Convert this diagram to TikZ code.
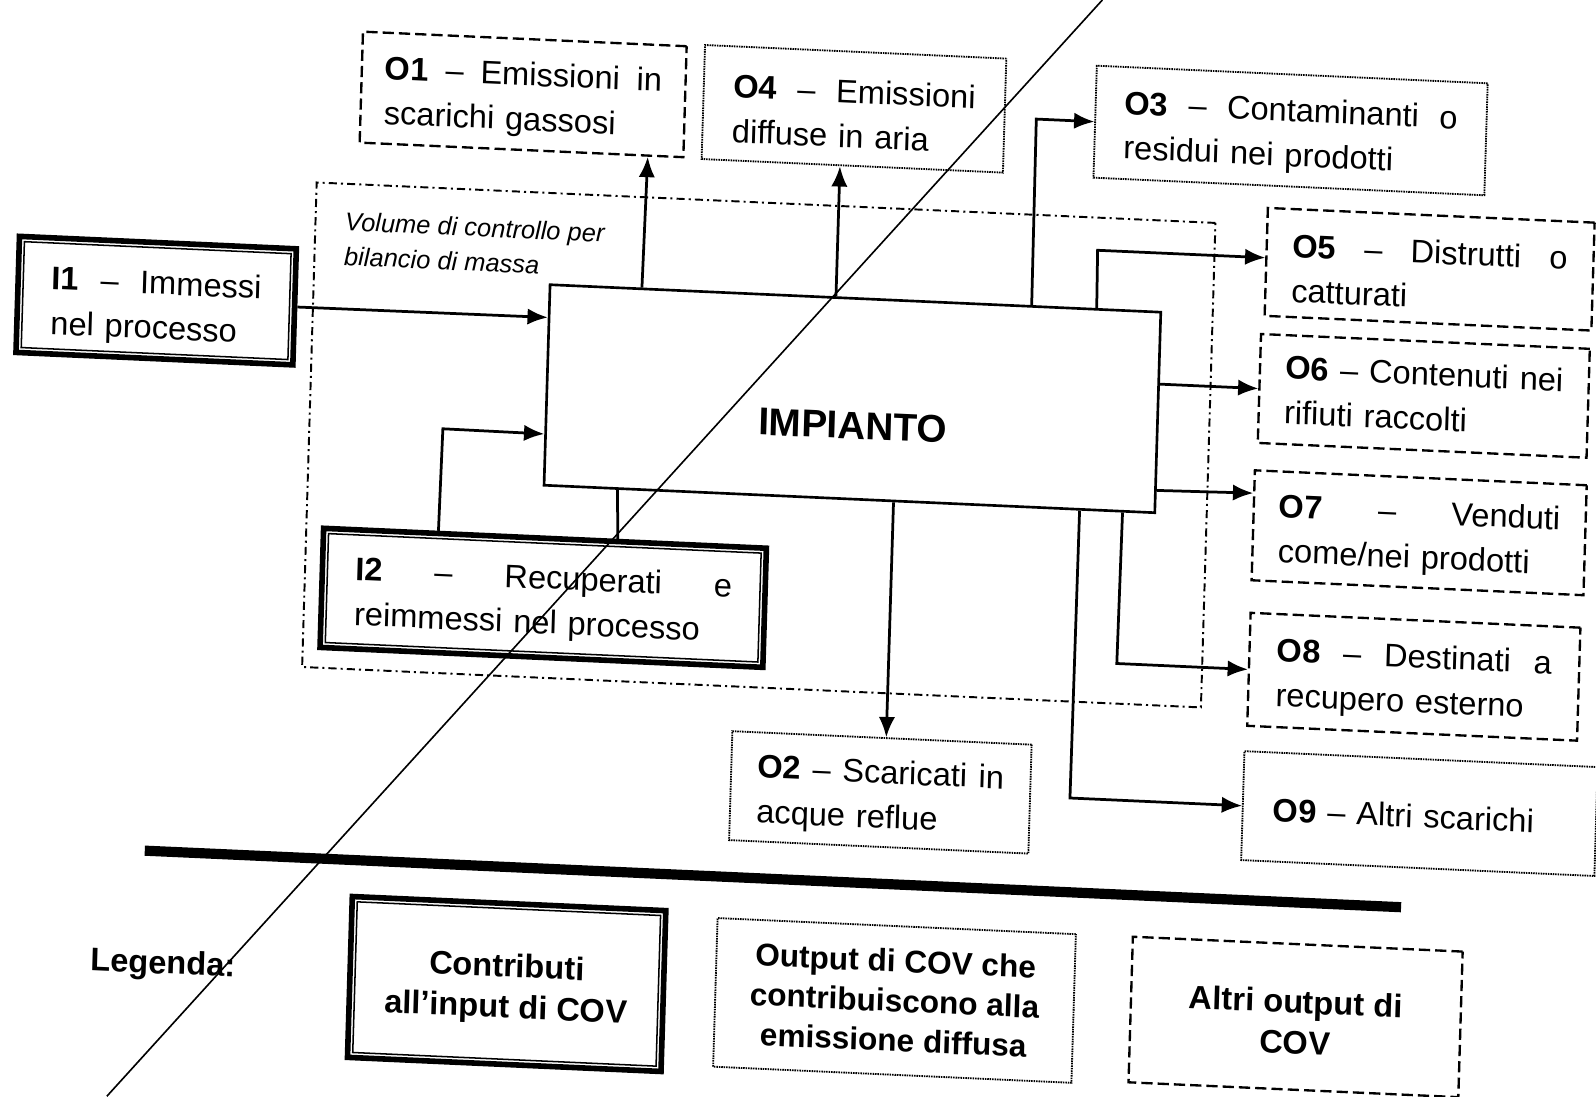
\documentclass[tikz,border=0pt]{standalone}
\usepackage{fontspec}
\setmainfont{Liberation Sans}
\usetikzlibrary{arrows.meta,calc}
\newcommand{\tstrut}{\rule{0pt}{33pt}}
\begin{document}
\begin{tikzpicture}[x=1pt,y=-1pt,
  txt/.style={font=\fontsize{32}{44}\selectfont, align=left, inner sep=0pt, transform shape},
  ltxt/.style={font=\bfseries\fontsize{32}{40}\selectfont, align=center, inner sep=0pt, transform shape},
  dashbox/.style={draw, line width=2.3pt, dash pattern=on 11pt off 5pt, inner sep=0pt, transform shape},
  dotbox/.style={draw, line width=1.8pt, dash pattern=on 1.5pt off 0.9pt, inner sep=0pt, transform shape},
  dblout/.style={draw, line width=5.5pt, inner sep=0pt, transform shape},
  dblin/.style={draw, line width=1.5pt, inner sep=0pt, transform shape},
  cvbox/.style={draw, line width=1.9pt, dash pattern=on 8pt off 4pt on 2pt off 4pt, inner sep=0pt, transform shape},
  mainbox/.style={draw, line width=2.6pt, inner sep=0pt, transform shape},
  arr/.style={line width=2.7pt, -{Latex[length=20pt,width=16pt]}},
  conn/.style={line width=2.7pt},
  sepline/.style={line width=10pt}
]
\useasboundingbox (0,0) rectangle (1568,1077);
\fill[white] (0,0) rectangle (1568,1077);

\begin{scope}[shift={(784,538)}]
\begin{scope}[cm={1,-0.045,0.03,1,(0,0)}]
\begin{scope}[shift={(-784,-538)}]

% control volume
\node[cvbox, minimum width=883, minimum height=476] (CV) at (742.5,439) {};
\node[font=\itshape\fontsize{25}{34}\selectfont, align=left, anchor=west, inner sep=0pt, transform shape] (CVlbl) at (330,255) {Volume di controllo per\\bilancio di massa};

% main plant
\node[mainbox, minimum width=600, minimum height=197] (IMP) at (833,389.5) {};
\node[font=\bfseries\fontsize{38}{44}\selectfont, inner sep=0pt, transform shape] (IMPlbl) at (834,416) {IMPIANTO};

% inputs
\node[dblout, minimum width=272, minimum height=114] (I1) at (147,324) {};
\node[dblin, txt, minimum width=262, minimum height=104, text width=206] (I1t) at (147,324) {\rule{0pt}{38pt}\textbf{I1}\hfill–\hfill Immessi\\nel processo};
\node[dblout, minimum width=435, minimum height=117] (I2) at (535.5,598.5) {};
\node[dblin, txt, minimum width=425, minimum height=107, text width=370] (I2t) at (535.5,598.5) {\tstrut\textbf{I2}\hfill–\hfill Recuperati\hfill e\\reimmessi nel processo};

% outputs
\node[dashbox, txt, minimum width=318, minimum height=109, text width=272] (O1) at (501,105.5) {\tstrut\textbf{O1}\hfill–\hfill Emissioni\hfill in\\scarichi gassosi};
\node[dotbox, txt, minimum width=296, minimum height=112, text width=238] (O4) at (826,105) {\tstrut\textbf{O4}\hfill–\hfill Emissioni\\diffuse in aria};
\node[dotbox, txt, minimum width=384, minimum height=110, text width=327] (O3) at (1255,107) {\tstrut\textbf{O3}\hfill–\hfill Contaminanti\hfill o\\residui nei prodotti};
\node[dashbox, txt, minimum width=321, minimum height=106, text width=270] (O5) at (1395.5,237) {\tstrut\textbf{O5}\hfill–\hfill Distrutti\hfill o\\catturati};
\node[dashbox, txt, minimum width=323, minimum height=107, text width=273] (O6) at (1393.5,361.5) {\textbf{O6}\hfill–\hfill Contenuti\hfill nei\\rifiuti raccolti};
\node[dashbox, txt, minimum width=326, minimum height=108, text width=276] (O7) at (1393,496) {\tstrut\textbf{O7}\hfill–\hfill Venduti\\come/nei prodotti};
\node[dashbox, txt, minimum width=324, minimum height=111, text width=270] (O8) at (1392,637.5) {\tstrut\textbf{O8}\hfill–\hfill Destinati\hfill a\\recupero esterno};
\node[dotbox, txt, minimum width=347, minimum height=107, text width=287] (O9) at (1401.5,771.5) {\rule{0pt}{28pt}\textbf{O9} – Altri scarichi};
\node[dotbox, txt, minimum width=294, minimum height=107, text width=242] (O2) at (872,774.5) {\tstrut\textbf{O2}\hfill–\hfill Scaricati\hfill in\\acque reflue};

% connectors
\draw[arr] (I1.east) -- ($(IMP.north west)!0.1675!(IMP.south west)$);
\coordinate (bI2) at (432,437);
\draw[arr] ($(I2.north west)!0.262!(I2.north east)$) -- (bI2) -- ($(IMP.north west)!0.741!(IMP.south west)$);
\draw[conn] ($(IMP.south west)!0.1217!(IMP.south east)$) -- ($(I2.north west)!0.662!(I2.north east)$);
\draw[arr] ($(IMP.north west)!0.1517!(IMP.north east)$) -- ($(O1.south west)!0.887!(O1.south east)$);
\draw[arr] ($(IMP.north west)!0.468!(IMP.north east)$) -- ($(O4.south west)!0.459!(O4.south east)$);
\coordinate (bO3) at (1005,107);
\draw[arr] ($(IMP.north west)!0.787!(IMP.north east)$) -- (bO3) -- (O3.west);
\coordinate (bO5) at (1069,233);
\draw[arr] ($(IMP.north west)!0.893!(IMP.north east)$) -- (bO5) -- ($(O5.north west)!0.462!(O5.south west)$);
\draw[arr] ($(IMP.north east)!0.36!(IMP.south east)$) -- (O6.west);
\draw[arr] ($(IMP.north east)!0.883!(IMP.south east)$) -- ($(O7.north west)!0.213!(O7.south west)$);
\coordinate (bO8) at (1100,637.5);
\draw[arr] ($(IMP.south west)!0.945!(IMP.south east)$) -- (bO8) -- (O8.west);
\coordinate (bO9) at (1058,771.5);
\draw[arr] ($(IMP.south west)!0.875!(IMP.south east)$) -- (bO9) -- (O9.west);
\draw[arr] ($(IMP.south west)!0.5717!(IMP.south east)$) -- ($(O2.north west)!0.5136!(O2.north east)$);

% legend
\coordinate (L1) at (152,864);
\coordinate (L2) at (1386,864);
\draw[sepline] (L1) -- (L2);
\node[font=\bfseries\fontsize{32}{39}\selectfont, anchor=west, inner sep=0pt, transform shape] (LEG) at (102,976) {Legenda:};
\node[dblout, minimum width=308, minimum height=158] (K1) at (511,979) {};
\node[dblin, ltxt, minimum width=298, minimum height=148] (K1t) at (511,979) {\rule{0pt}{33pt}Contributi\\all’input di COV};
\node[dotbox, ltxt, font=\bfseries\fontsize{31}{39}\selectfont, minimum width=352, minimum height=146] (K2) at (892,978) {Output di COV che\\contribuiscono alla\\emissione diffusa};
\node[dashbox, ltxt, minimum width=324, minimum height=143] (K3) at (1286,976.5) {\rule{0pt}{33pt}Altri output di\\COV};

\end{scope}
\end{scope}
\end{scope}

% pen stroke across the page
\coordinate (D1) at (1083,0);
\coordinate (D2) at (105,1077);
\draw[line width=1.6pt] (D1) -- (D2);
\end{tikzpicture}
\end{document}
